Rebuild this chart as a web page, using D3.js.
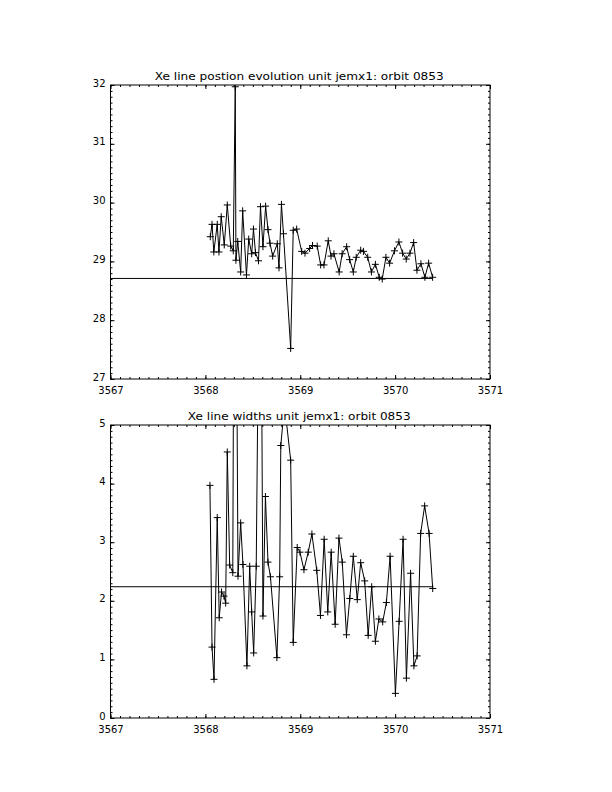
<!DOCTYPE html>
<html><head><meta charset="utf-8">
<script src="https://cdn.jsdelivr.net/npm/d3@7"></script>
<style>body{margin:0;background:#fff}</style>
</head><body><svg id="c" width="612" height="792"></svg>
<script>
// ---- data ----
const posTime=[3568.052,3568.070,3568.089,3568.125,3568.143,3568.167,3568.199,3568.231,3568.267,3568.294,
3568.315,3568.322,3568.341,3568.372,3568.393,3568.433,3568.457,3568.488,3568.507,3568.528,
3568.560,3568.581,3568.607,3568.635,3568.660,3568.681,3568.709,3568.758,3568.776,3568.802,
3568.823,3568.899,3568.926,3568.962,3569.015,3569.050,3569.099,3569.129,3569.179,3569.215,
3569.250,3569.295,3569.324,3569.355,3569.410,3569.442,3569.489,3569.521,3569.559,3569.590,
3569.637,3569.666,3569.711,3569.750,3569.792,3569.833,3569.864,3569.903,3569.942,3569.993,
3570.040,3570.079,3570.117,3570.156,3570.195,3570.230,3570.272,3570.314,3570.353,3570.395];
const posValue=[29.42,29.63,29.16,29.63,29.16,29.76,29.28,29.96,29.26,29.18,
31.97,29.02,29.34,28.82,29.86,28.77,29.38,29.13,29.55,29.15,
29.01,29.93,29.25,29.94,29.54,29.31,29.09,29.30,28.89,29.97,
29.47,27.52,29.53,29.55,29.17,29.14,29.22,29.27,29.26,28.94,
28.94,29.35,29.09,29.13,28.82,29.13,29.25,29.03,28.82,29.07,
29.19,29.17,29.07,28.82,28.95,28.73,28.70,29.07,28.97,29.18,
29.33,29.14,29.04,29.14,29.32,28.85,28.96,28.73,28.97,28.73];
const widthTime=[3568.048,3568.070,3568.091,3568.125,3568.146,3568.170,3568.196,3568.214,3568.231,3568.256,
3568.289,3568.310,3568.344,3568.372,3568.396,3568.438,3568.467,3568.488,3568.509,3568.536,
3568.579,3568.607,3568.633,3568.660,3568.686,3568.754,3568.783,3568.795,3568.834,3568.899,
3568.926,3568.968,3568.997,3569.039,3569.084,3569.123,3569.174,3569.213,3569.252,3569.290,
3569.326,3569.368,3569.408,3569.443,3569.487,3569.522,3569.559,3569.601,3569.637,3569.679,
3569.716,3569.753,3569.792,3569.829,3569.869,3569.908,3569.947,3570.003,3570.042,3570.084,
3570.119,3570.163,3570.198,3570.232,3570.269,3570.311,3570.358,3570.396];
const widthValue=[3.97,1.21,0.66,3.42,1.71,2.15,2.08,1.96,4.54,2.61,
2.48,12.0,2.42,3.33,2.62,0.89,2.59,1.81,1.11,2.59,
10.0,1.74,3.78,2.66,2.41,1.03,2.41,4.65,5.35,4.40,
1.29,2.91,2.83,2.53,2.83,3.14,2.52,1.75,3.05,1.81,
2.83,1.60,3.07,2.66,1.42,2.04,2.76,2.02,2.65,2.34,
1.41,2.24,1.31,1.69,1.64,1.97,2.76,0.42,1.65,3.05,
0.68,2.47,0.89,1.06,3.15,3.62,3.15,2.21];
const posMean=28.71;
const widthMean=2.24;
const xTicks=[3567,3568,3569,3570,3571];
const posTicks=[27,28,29,30,31,32];
const widthTicks=[0,1,2,3,4,5];
const posTitle="Xe line postion evolution unit jemx1: orbit 0853";
const widthTitle="Xe line widths unit jemx1: orbit 0853";

// ---- drawing ----
const svg=d3.select("#c");
const FONT="DejaVu Sans";
const L=110.5, R=490;
function minorTicks(lo,hi,step){const out=[];const n=Math.round((hi-lo)/step);for(let i=0;i<=n;i++)out.push(lo+i*step);return out;}

function panel(id,top,bottom,yTicks,time,values,mean,title){
  const x=d3.scaleLinear().domain([xTicks[0],xTicks[xTicks.length-1]]).range([L,R]);
  const y=d3.scaleLinear().domain([yTicks[0],yTicks[yTicks.length-1]]).range([bottom,top]);
  const g=svg.append("g");
  g.append("clipPath").attr("id","clip"+id).append("rect")
    .attr("x",L).attr("y",top).attr("width",R-L).attr("height",bottom-top);
  // frame
  g.append("rect").attr("x",L).attr("y",top).attr("width",R-L).attr("height",bottom-top)
    .attr("fill","none").attr("stroke","#000").attr("stroke-width",1);
  const xMinor=minorTicks(xTicks[0],xTicks[xTicks.length-1],0.1);
  const yMinor=minorTicks(yTicks[0],yTicks[yTicks.length-1],0.1);
  const style=a=>a.call(s=>s.select(".domain").remove()).call(s=>s.selectAll("line").attr("stroke","#000"));
  // bottom ticks with labels
  g.append("g").attr("transform",`translate(0,${bottom})`)
    .call(d3.axisBottom(x).tickValues(xMinor).tickSize(-2).tickFormat(""))
    .call(style);
  g.append("g").attr("transform",`translate(0,${bottom})`)
    .call(d3.axisBottom(x).tickValues(xTicks).tickSize(-4).tickPadding(8).tickFormat(d3.format("d")))
    .call(style)
    .call(s=>s.selectAll("text").attr("font-family",FONT).attr("font-size",10).attr("fill","#000"));
  // top ticks
  g.append("g").attr("transform",`translate(0,${top})`)
    .call(d3.axisTop(x).tickValues(xMinor).tickSize(-2).tickFormat("")).call(style);
  g.append("g").attr("transform",`translate(0,${top})`)
    .call(d3.axisTop(x).tickValues(xTicks).tickSize(-4).tickFormat("")).call(style);
  // left ticks with labels
  g.append("g").attr("transform",`translate(${L},0)`)
    .call(d3.axisLeft(y).tickValues(yMinor).tickSize(-2).tickFormat("")).call(style);
  g.append("g").attr("transform",`translate(${L},0)`)
    .call(d3.axisLeft(y).tickValues(yTicks).tickSize(-4).tickPadding(5).tickFormat(d3.format("d")))
    .call(style)
    .call(s=>s.selectAll("text").attr("font-family",FONT).attr("font-size",10).attr("fill","#000").attr("dy","0.1em"));
  // right ticks
  g.append("g").attr("transform",`translate(${R},0)`)
    .call(d3.axisRight(y).tickValues(yMinor).tickSize(-2).tickFormat("")).call(style);
  g.append("g").attr("transform",`translate(${R},0)`)
    .call(d3.axisRight(y).tickValues(yTicks).tickSize(-4).tickFormat("")).call(style);
  // title
  g.append("text").attr("x",(L+R)/2-1).attr("y",top-5).attr("text-anchor","middle")
    .attr("font-family",FONT).attr("font-size",10).attr("textLength",title.length*6.02)
    .attr("lengthAdjust","spacingAndGlyphs").text(title);
  const data=time.map((t,i)=>[t,values[i]]);
  const pg=g.append("g").attr("clip-path",`url(#clip${id})`);
  // mean line
  pg.append("line").attr("x1",x(xTicks[0])).attr("x2",x(time[time.length-1]))
    .attr("y1",y(mean)).attr("y2",y(mean)).attr("stroke","#000").attr("stroke-width",1);
  // data line
  pg.append("path").datum(data)
    .attr("d",d3.line().x(d=>x(d[0])).y(d=>y(d[1])))
    .attr("fill","none").attr("stroke","#000").attr("stroke-width",1);
  // plus symbols
  const h=3.5;
  pg.selectAll("path.sym").data(data).join("path").attr("class","sym")
    .attr("d",d=>{const cx=x(d[0]),cy=y(d[1]);return `M${cx-h},${cy}H${cx+h}M${cx},${cy-h}V${cy+h}`;})
    .attr("stroke","#000").attr("stroke-width",1).attr("fill","none");
}

panel(1,85,379,posTicks,posTime,posValue,posMean,posTitle);
panel(2,425,718,widthTicks,widthTime,widthValue,widthMean,widthTitle);
</script>
</body></html>
